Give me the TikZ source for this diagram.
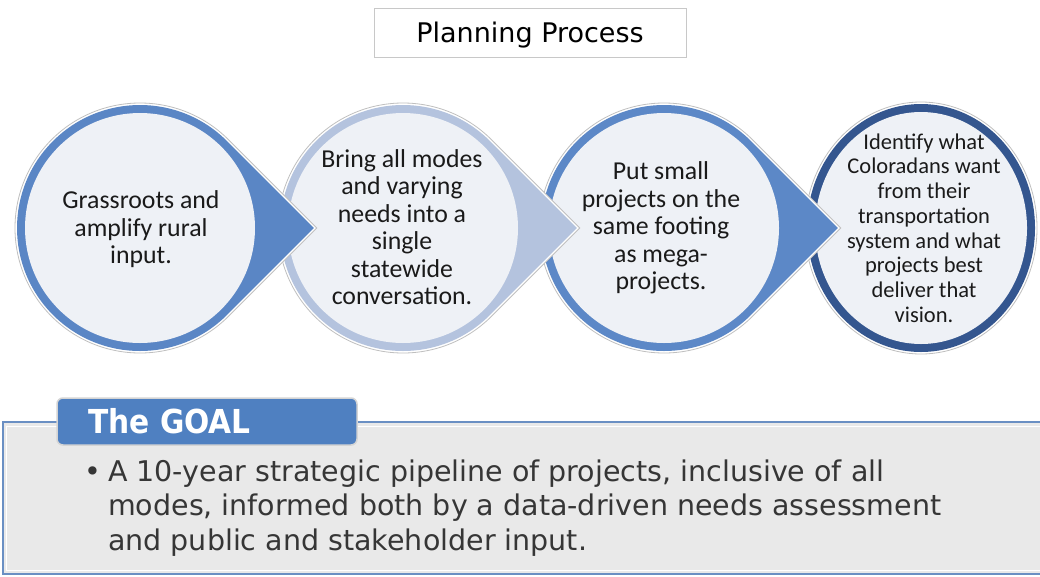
\documentclass[tikz,border=0pt]{standalone}
\usepackage{fontspec}
\setmainfont{Carlito}
\newfontfamily\tahoma{DejaVu Sans}
\newfontfamily\tahomacond{DejaVu Sans Condensed}
\usetikzlibrary{calc}
\definecolor{outl}{HTML}{BFBFBF}
\definecolor{innerfill}{HTML}{EEF1F6}
\definecolor{ringA}{HTML}{5A86C5}
\definecolor{ringB}{HTML}{B4C3DE}
\definecolor{ringC}{HTML}{5C88C7}
\definecolor{ringD}{HTML}{34568F}
\definecolor{txt}{HTML}{1A1A1A}
\definecolor{titleb}{HTML}{C8C8C8}
\definecolor{goalfill}{HTML}{E9E9E9}
\definecolor{goalb}{HTML}{6A8FC3}
\definecolor{tabblue}{HTML}{4F80C1}
\definecolor{tabb}{HTML}{D4D4D4}
\definecolor{goaltxt}{HTML}{363636}
\newcommand\tdrop[4]{%
  \path[fill=white,draw=outl,line width=0.8pt] ({#1+1.41421*#3},{#2}) -- ($(#1,#2)+(45:#3)$) arc[start angle=45,end angle=315,radius=#3] -- cycle;
  \path[fill=#4] ({#1+1.41421*(#3-2)},{#2}) -- ($(#1,#2)+(45:#3-2)$) arc[start angle=45,end angle=315,radius=#3-2] -- cycle;
  \path[fill=innerfill] (#1,#2) circle[radius=#3-10];
}
\tikzset{
  ctext/.style={align=center, text=txt, inner sep=0pt, font=\fontsize{25.8}{27.5}\selectfont},
  csmall/.style={align=center, text=txt, inner sep=0pt, font=\fontsize{22.5}{24.7}\selectfont},
  goalfont/.style={font=\tahoma\fontsize{28.5}{34.5}\selectfont},
}
\begin{document}
\begin{tikzpicture}[x=1pt,y=1pt]
\useasboundingbox (0,0) rectangle (1040,-576);
\fill[white] (0,0) rectangle (1040,-576);
% title
\node[draw=titleb, line width=1pt, fill=white, minimum width=312pt, minimum height=49pt, inner sep=0pt] (titlebox) at (530,-32.5) {};
\node[inner sep=0pt, font=\tahoma\fontsize{27}{30}\selectfont, text=black] (title) at (530,-35) {Planning Process};
% circles (drawn right to left so pointers overlap the next circle)
\path[fill=white,draw=outl,line width=0.8pt] (921,-228) ellipse[x radius=116,y radius=126];
\path[fill=ringD] (921,-228) ellipse[x radius=114,y radius=124];
\path[fill=innerfill] (921,-228) ellipse[x radius=106,y radius=116];
\tdrop{664}{-228}{125}{ringC}
\tdrop{403}{-228}{125}{ringB}
\tdrop{140}{-228}{125}{ringA}
\node[ctext] (t1) at (141,-229.5) {Grassroots and\\amplify rural\\input.};
\node[ctext] (t2) at (402,-227) {Bring all modes\\and varying\\needs into a\\single\\statewide\\conversation.};
\node[ctext] (t3) at (661,-228) {Put small\\projects on the\\same footing\\as mega-\\projects.};
\node[csmall] (t4) at (924,-228) {Identify what\\Coloradans want\\from their\\transportation\\system and what\\projects best\\deliver that\\vision.};
% goal box
\path[fill=goalfill, draw=goalb, line width=2.5pt] (3,-422) rectangle (1046,-574);
\draw[white, line width=1pt] (6,-426) rectangle (1043,-570);
\node[fill=tabblue, draw=tabb, line width=1.5pt, rounded corners=6pt, minimum width=300pt,
      minimum height=47pt, inner sep=0pt] (tab) at (207,-421.5) {};
\node[anchor=west, text=white, inner sep=0pt, font=\tahomacond\bfseries\fontsize{33}{36}\selectfont] (goal) at (88,-421) {The GOAL};
\node[anchor=base, text=goaltxt, inner sep=0pt, goalfont] (bul) at (93,-481) {•};
\node[anchor=base west, text=goaltxt, inner sep=0pt, align=left, goalfont] (goaltext) at (108,-550)
  {A 10-year strategic pipeline of projects, inclusive of all\\modes, informed both by a data-driven needs assessment\\and public and stakeholder input.};
\end{tikzpicture}
\end{document}
